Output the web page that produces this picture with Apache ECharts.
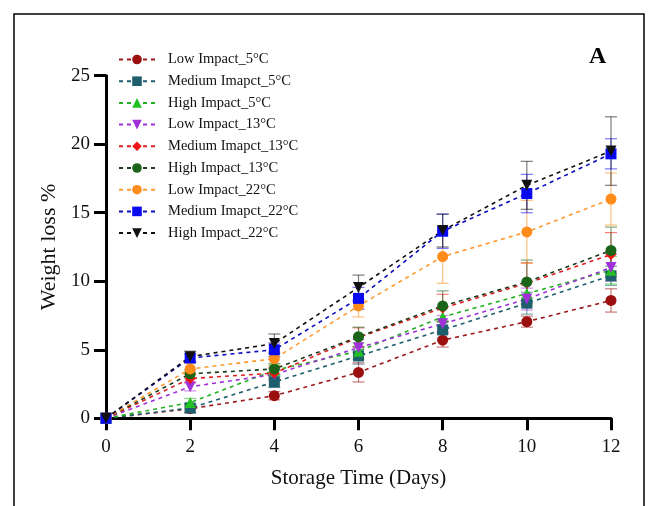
<!DOCTYPE html>
<html><head><meta charset="utf-8">
<script src="https://cdn.jsdelivr.net/npm/echarts@6/dist/echarts.min.js"></script>
<style>html,body{margin:0;padding:0;background:#fff}#c{width:656px;height:506px}</style>
</head><body><div id="c"></div>
<script>
var days = [0, 2, 4, 6, 8, 10, 12];
var xTicks = [0, 2, 4, 6, 8, 10, 12];
var yTicks = [0, 5, 10, 15, 20, 25];
var seriesNames = ['Low Impact_5°C','Medium Imapct_5°C','High Impact_5°C','Low Impact_13°C','Medium Imapct_13°C','High Impact_13°C','Low Impact_22°C','Medium Imapct_22°C','High Impact_22°C'];
var low5   = [0, 0.70, 1.65, 3.35, 5.70, 7.05, 8.60];
var med5   = [0, 0.75, 2.65, 4.55, 6.45, 8.40, 10.40];
var high5  = [0, 1.15, 3.50, 4.90, 7.40, 9.10, 10.80];
var low13  = [0, 2.30, 3.20, 5.15, 6.90, 8.70, 11.00];
var med13  = [0, 2.90, 3.30, 5.90, 8.05, 9.85, 11.95];
var high13 = [0, 3.25, 3.60, 5.95, 8.20, 9.95, 12.25];
var low22  = [0, 3.60, 4.35, 8.20, 11.80, 13.60, 16.00];
var med22  = [0, 4.40, 5.00, 8.75, 13.65, 16.40, 19.30];
var high22 = [0, 4.50, 5.45, 9.55, 13.70, 17.00, 19.50];
var errLow5   = [0, 0.30, 0.30, 0.70, 0.50, 0.40, 0.85];
var errMed5   = [0, 0.30, 0.40, 0.60, 0.60, 0.80, 0.70];
var errHigh5  = [0, 0.30, 0.40, 0.60, 0.70, 0.90, 1.00];
var errLow13  = [0, 0.30, 0.40, 0.60, 0.60, 0.80, 1.00];
var errMed13  = [0, 0.30, 0.40, 0.70, 1.00, 1.50, 1.60];
var errHigh13 = [0, 0.30, 0.40, 0.70, 1.10, 1.60, 1.70];
var errLow22  = [0, 0.40, 0.50, 0.80, 1.95, 2.30, 1.90];
var errMed22  = [0, 0.30, 0.50, 0.80, 1.25, 1.40, 1.10];
var errHigh22 = [0, 0.40, 0.70, 0.90, 1.20, 1.75, 2.50];

var values = [low5, med5, high5, low13, med13, high13, low22, med22, high22];
var errors = [errLow5, errMed5, errHigh5, errLow13, errMed13, errHigh13, errLow22, errMed22, errHigh22];
var markerColors = ['#9B0F0F','#1E5F6E','#22C022','#A030D8','#F01414','#1B651B','#FF8C1A','#0A0AF0','#111111'];
var lineColors   = ['#9B1A1A','#1E5F6E','#22B022','#A030D8','#E02020','#1A3A1A','#FF9A30','#0A0AC0','#111111'];
var symbols = ['circle','rect','triangle','triangle','diamond','circle','circle','rect','triangle'];
var rotates = [0,0,0,180,0,0,0,0,180];
var sizes = [11,11,11,11,11,11,11,11,11];
var SERIF = '"Liberation Serif","DejaVu Serif",serif';

var series = [];
values.forEach(function(v, i){
  series.push({
    type:'custom', name: seriesNames[i]+'_err', silent:true, z:1,
    data: days.map(function(d,j){ return [d, v[j], errors[i][j]]; }),
    renderItem: function(params, api){
      var x = api.value(0), y = api.value(1), e = api.value(2);
      if (!e) return null;
      var top = api.coord([x, y+e]), bot = api.coord([x, y-e]);
      var st = {stroke: markerColors[i], lineWidth:1.2, opacity:0.55};
      return {type:'group', children:[
        {type:'line', shape:{x1:top[0],y1:top[1],x2:bot[0],y2:bot[1]}, style:st},
        {type:'line', shape:{x1:top[0]-6,y1:top[1],x2:top[0]+6,y2:top[1]}, style:st},
        {type:'line', shape:{x1:bot[0]-6,y1:bot[1],x2:bot[0]+6,y2:bot[1]}, style:st}
      ]};
    }
  });
});
values.forEach(function(v, i){
  series.push({
    type:'line', name: seriesNames[i], z:3,
    data: days.map(function(d,j){ return [d, v[j]]; }),
    symbol: symbols[i], symbolSize: sizes[i], symbolRotate: rotates[i],
    itemStyle:{color: markerColors[i], opacity:1},
    lineStyle:{color: lineColors[i], width:1.6, type:[4,4]},
    showAllSymbol:true
  });
});

var chart = echarts.init(document.getElementById('c'), null, {renderer:'canvas'});
chart.setOption({
  animation:false,
  backgroundColor:'#fff',
  graphic:[
    {type:'rect', shape:{x:14,y:14,width:630,height:520}, style:{fill:'none', stroke:'#000', lineWidth:1.5}, z:0},
    {type:'text', left:589, top:45, style:{text:'A', font:'bold 24px '+SERIF, fill:'#000'}}
  ],
  grid:{left:106, right:45, top:75.7, bottom:87.7, containLabel:false},
  legend:{
    orient:'vertical', left:113, top:47, itemWidth:36, itemHeight:12, itemGap:6.7,
    data: seriesNames,
    textStyle:{fontFamily:SERIF, fontSize:14.5, color:'#111', padding:[0,0,0,8]}
  },
  xAxis:{
    type:'value', min:0, max:12, interval:2,
    name:'Storage Time (Days)', nameLocation:'middle', nameGap:50,
    nameTextStyle:{fontFamily:SERIF, fontSize:21, color:'#111'},
    axisLine:{onZero:false, lineStyle:{color:'#000', width:3}},
    axisTick:{length:12, lineStyle:{color:'#000', width:3}},
    axisLabel:{fontFamily:SERIF, fontSize:19, color:'#111', margin:19,
      formatter:function(v){ return xTicks.indexOf(v)>=0 ? String(v) : ''; }},
    splitLine:{show:false}
  },
  yAxis:{
    type:'value', min:0, max:25, interval:5,
    name:'Weight loss %', nameLocation:'middle', nameGap:45,
    nameTextStyle:{fontFamily:SERIF, fontSize:22, color:'#111', padding:[0,0,0,0]},
    axisLine:{onZero:false, lineStyle:{color:'#000', width:3}},
    axisTick:{length:12, lineStyle:{color:'#000', width:3}},
    axisLabel:{fontFamily:SERIF, fontSize:19, color:'#111', margin:16,
      formatter:function(v){ return yTicks.indexOf(v)>=0 ? String(v) : ''; }},
    splitLine:{show:false}
  },
  series: series
});
</script></body></html>
